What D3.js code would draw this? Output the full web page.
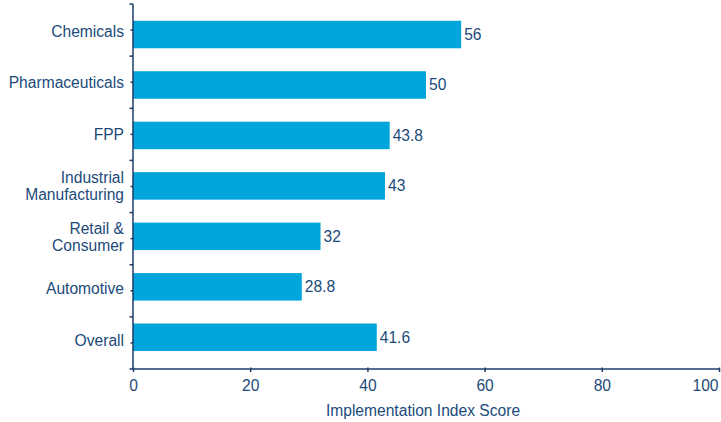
<!DOCTYPE html>
<html>
<head>
<meta charset="utf-8">
<script src="https://cdn.jsdelivr.net/npm/d3@7"></script>
<style>
  html, body { margin: 0; padding: 0; background: #fff; }
  svg { display: block; font-family: "Liberation Sans", Arial, Helvetica, sans-serif; }
</style>
</head>
<body>
<svg id="chart" width="721" height="422"></svg>
<script>
// Implementation index score by industry
const categories = [
  ["Chemicals"],
  ["Pharmaceuticals"],
  ["FPP"],
  ["Industrial", "Manufacturing"],
  ["Retail &", "Consumer"],
  ["Automotive"],
  ["Overall"]
];
const scores = [56, 50, 43.8, 43, 32, 28.8, 41.6];
const scoreLabels = ["56", "50", "43.8", "43", "32", "28.8", "41.6"];
const xTicks = [0, 20, 40, 60, 80, 100];
const xTitle = "Implementation Index Score";

const barColor = "#00a5db";
const inkColor = "#1c4a7a";
const axisColor = "#1b3d6b";
const fontSize = 15.6;

const svg = d3.select("#chart");
const keys = categories.map(c => c.join(" "));

const x = d3.scaleLinear().domain([0, 100]).range([133, 719]);

// Category axis band (tick marks)
const yAxisBand = d3.scaleBand().domain(keys).range([4, 369]);
// Category label band
const yLabel = d3.scaleBand().domain(keys).range([5.3, 365.8]);
// Bar placement band
const yBar = d3.scaleBand().domain(keys).range([9.3, 362.5]).paddingInner(0.455).paddingOuter(0.2275);

// Bars
svg.append("g").selectAll("rect")
  .data(scores)
  .join("rect")
  .attr("x", x(0))
  .attr("y", (d, i) => yBar(keys[i]))
  .attr("width", d => x(d) - x(0))
  .attr("height", yBar.bandwidth())
  .attr("fill", barColor);

// Value labels
svg.append("g").selectAll("text")
  .data(scores)
  .join("text")
  .attr("x", d => x(d) + 3)
  .attr("y", (d, i) => yBar(keys[i]) + yBar.bandwidth() / 2)
  .attr("dy", "0.35em")
  .attr("font-size", fontSize)
  .attr("fill", inkColor)
  .text((d, i) => scoreLabels[i]);

// Category axis
const yg = svg.append("g");
yg.append("line")
  .attr("x1", x(0)).attr("x2", x(0))
  .attr("y1", yAxisBand.range()[0]).attr("y2", yAxisBand.range()[1])
  .attr("stroke", axisColor).attr("stroke-width", 1.5);
// boundary ticks
const bounds = keys.map(k => yAxisBand(k)).concat([yAxisBand.range()[1]]);
yg.selectAll("line.b").data(bounds).join("line").attr("class", "b")
  .attr("x1", x(0) - 3.5).attr("x2", x(0))
  .attr("y1", d => d).attr("y2", d => d)
  .attr("stroke", axisColor).attr("stroke-width", 1.5);
// center ticks
yg.selectAll("line.c").data(keys).join("line").attr("class", "c")
  .attr("x1", x(0) - 2.5).attr("x2", x(0))
  .attr("y1", d => yAxisBand(d) + yAxisBand.bandwidth() / 2)
  .attr("y2", d => yAxisBand(d) + yAxisBand.bandwidth() / 2)
  .attr("stroke", axisColor).attr("stroke-width", 1.5);
// category labels
const lineH = 17;
yg.selectAll("text").data(categories).join("text")
  .attr("x", 124)
  .attr("y", (d, i) => yLabel(keys[i]) + yLabel.bandwidth() / 2 - (d.length - 1) * lineH / 2)
  .attr("text-anchor", "end")
  .attr("font-size", fontSize)
  .attr("fill", inkColor)
  .each(function(d) {
    const t = d3.select(this);
    d.forEach((line, j) => {
      t.append("tspan")
        .attr("x", 124)
        .attr("dy", j === 0 ? "0.35em" : lineH)
        .text(line);
    });
  });

// Value axis
const axisY = 369;
const xg = svg.append("g").attr("transform", `translate(0,${axisY})`)
  .call(d3.axisBottom(x).tickValues(xTicks).tickSize(3).tickPadding(8).tickFormat(d3.format("d")));
xg.select(".domain").attr("stroke", axisColor).attr("stroke-width", 1.5)
  .attr("d", `M${x(0)},0H${x(100)}`);
xg.selectAll(".tick line").attr("stroke", axisColor).attr("stroke-width", 1.5).attr("y1", -1.5);
xg.selectAll(".tick text")
  .attr("font-size", fontSize)
  .attr("font-family", "Liberation Sans, Arial, sans-serif")
  .attr("fill", inkColor);
xg.selectAll(".tick text").filter(d => d === 100).attr("text-anchor", "end").attr("dx", -1);

svg.append("text")
  .attr("x", 423)
  .attr("y", 411)
  .attr("dy", "0.35em")
  .attr("text-anchor", "middle")
  .attr("font-size", fontSize)
  .attr("fill", inkColor)
  .text(xTitle);
</script>
</body>
</html>
